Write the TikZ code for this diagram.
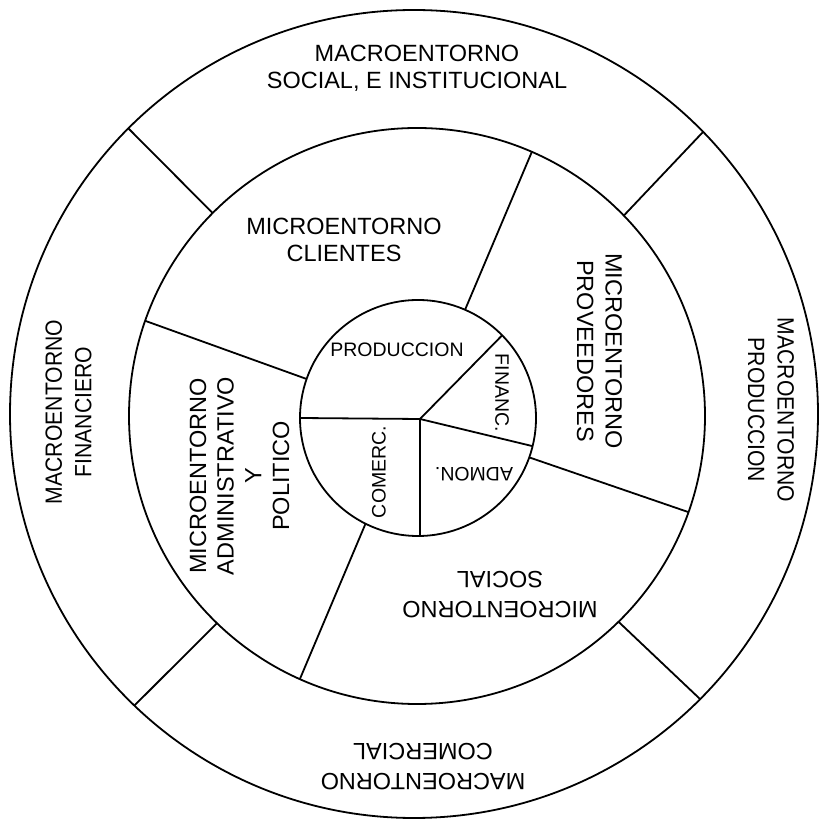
\documentclass[tikz,border=0pt]{standalone}
\usepackage{fontspec}
\setmainfont{Liberation Sans}
\newfontfamily\narrowfont[FakeStretch=0.9]{Liberation Sans}
\usetikzlibrary{calc}
\begin{document}
\begin{tikzpicture}[x=1pt,y=1pt,line width=1.8pt,
  lbl/.style={align=center,inner sep=0pt,font=\fontsize{23.5}{28.5}\selectfont},
  nlbl/.style={align=center,inner sep=0pt,font=\narrowfont\fontsize{23.5}{29.5}\selectfont},
  sml/.style={inner sep=0pt,font=\fontsize{19.5}{23}\selectfont}]
\useasboundingbox (0,0) rectangle (820,823);
% centres
\coordinate (O) at (414,409);
\coordinate (M) at (417,407);
\coordinate (I) at (418,405);
\coordinate (V) at (420,404);
% rings
\draw (O) circle[radius=404];
\draw (M) circle[radius=288];
\draw (I) circle[radius=118];
% inner pie
\coordinate (pL) at ($(I)+(180:118)$);
\coordinate (pD) at ($(I)+(-89:118)$);
\coordinate (pUR) at ($(I)+(44.5:118)$);
\coordinate (pR) at ($(I)+(-13.8:118)$);
\draw (V) -- (pL);
\draw (V) -- (pD);
\draw (V) -- (pUR);
\draw (V) -- (pR);
% middle ring dividers
\coordinate (a1) at ($(I)+(66.5:118)$);  \coordinate (b1) at ($(M)+(66.5:288)$);
\coordinate (a2) at ($(I)+(160.7:118)$); \coordinate (b2) at ($(M)+(160.7:288)$);
\coordinate (a3) at ($(I)+(243.6:118)$); \coordinate (b3) at ($(M)+(246:288)$);
\coordinate (a4) at ($(I)+(-19.5:118)$); \coordinate (b4) at ($(M)+(-19.5:288)$);
\draw (a1) -- (b1);
\draw (a2) -- (b2);
\draw (a3) -- (b3);
\draw (a4) -- (b4);
% outer ring dividers
\coordinate (c1) at ($(M)+(135.2:288)$);  \coordinate (d1) at ($(O)+(135:404)$);
\coordinate (c2) at ($(M)+(44.1:288)$);   \coordinate (d2) at ($(O)+(44.3:404)$);
\coordinate (c3) at ($(M)+(226:288)$);    \coordinate (d3) at ($(O)+(226.2:404)$);
\coordinate (c4) at ($(M)+(-45.6:288)$);  \coordinate (d4) at ($(O)+(-44.9:404)$);
\draw (c1) -- (d1);
\draw (c2) -- (d2);
\draw (c3) -- (d3);
\draw (c4) -- (d4);
% outer labels
\node[lbl,font=\fontsize{23.5}{27}\selectfont] (macSoc) at (417,754.5) {MACROENTORNO\\SOCIAL, E INSTITUCIONAL};
\node[nlbl,rotate=-90] (macProd) at (771,413) {MACROENTORNO\\PRODUCCION};
\node[nlbl,rotate=90] (macFin) at (68.5,411) {MACROENTORNO\\FINANCIERO};
\node[lbl,rotate=180,font=\fontsize{23.5}{30}\selectfont] (macCom) at (423,56) {MACROENTORNO\\COMERCIAL};
% middle labels
\node[lbl,font=\fontsize{23.5}{27}\selectfont] (micCli) at (344,583.5) {MICROENTORNO\\CLIENTES};
\node[lbl,rotate=-90] (micProv) at (599.5,472) {MICROENTORNO\\PROVEEDORES};
\node[lbl,rotate=90,font=\fontsize{23.5}{27.7}\selectfont] (micAdm) at (239.5,347) {MICROENTORNO\\ADMINISTRATIVO\\Y\\POLITICO};
\node[lbl,rotate=180,font=\fontsize{23.5}{30}\selectfont] (micSoc) at (500,228) {MICROENTORNO\\SOCIAL};
% inner labels
\node[sml] (prod) at (397,473) {PRODUCCION};
\node[sml,rotate=-90] (fin) at (502,430) {FINANC.};
\node[sml,rotate=180] (adm) at (474,349) {ADMON.};
\node[sml,rotate=90] (com) at (379,351) {COMERC.};
\end{tikzpicture}
\end{document}
